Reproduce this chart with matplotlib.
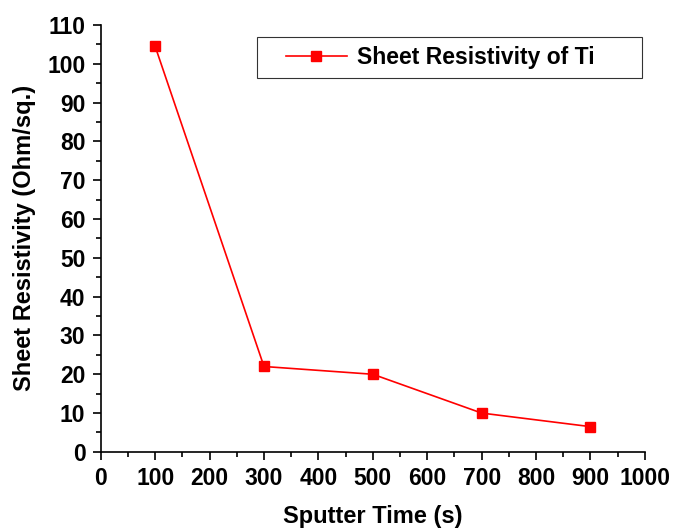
import matplotlib.pyplot as plt
from matplotlib.ticker import MultipleLocator
from matplotlib.legend_handler import HandlerLine2D

plt.rcParams['font.family'] = ['Liberation Sans', 'DejaVu Sans']
plt.rcParams['font.weight'] = 'bold'

sputter_time = [100, 300, 500, 700, 900]
resistivity = [104.5, 22, 20, 10, 6.5]

fig = plt.figure(figsize=(6.76, 5.31), dpi=100)
ax = fig.add_axes([0.149, 0.149, 0.805, 0.804])

line, = ax.plot(sputter_time, resistivity, color='red', lw=1.2, marker='s',
                markersize=7, label='Sheet Resistivity of Ti')

ax.set_xlim(0, 1000)
ax.set_ylim(0, 110)
ax.xaxis.set_major_locator(MultipleLocator(100))
ax.xaxis.set_minor_locator(MultipleLocator(50))
ax.yaxis.set_major_locator(MultipleLocator(10))
ax.yaxis.set_minor_locator(MultipleLocator(5))

ax.spines['top'].set_visible(False)
ax.spines['right'].set_visible(False)
for s in ['left', 'bottom']:
    ax.spines[s].set_linewidth(1.2)

fs = 16.5
ax.tick_params(which='major', direction='out', length=6, width=1.2,
               labelsize=fs, pad=5)
ax.tick_params(which='minor', direction='out', length=3.5, width=1.2)
for lbl in ax.get_xticklabels() + ax.get_yticklabels():
    lbl.set_fontweight('bold')

ax.set_xlabel('Sputter Time (s)', fontsize=17, fontweight='bold', labelpad=11)
ax.set_ylabel('Sheet Resistivity (Ohm/sq.)', fontsize=17, fontweight='bold',
              labelpad=8)

# legend box stretched to the width seen in the original
leg = ax.legend(handler_map={line: HandlerLine2D(xpad=0.85)},
                loc='upper left', bbox_to_anchor=(0.287, 0.878, 0.708, 0.094),
                mode='expand', borderaxespad=0, fancybox=False,
                edgecolor='black', prop={'weight': 'bold', 'size': fs},
                handlelength=3.55, handletextpad=0.4, borderpad=0.4)
leg.get_frame().set_linewidth(0.8)

fig.savefig('out.png', dpi=100)
